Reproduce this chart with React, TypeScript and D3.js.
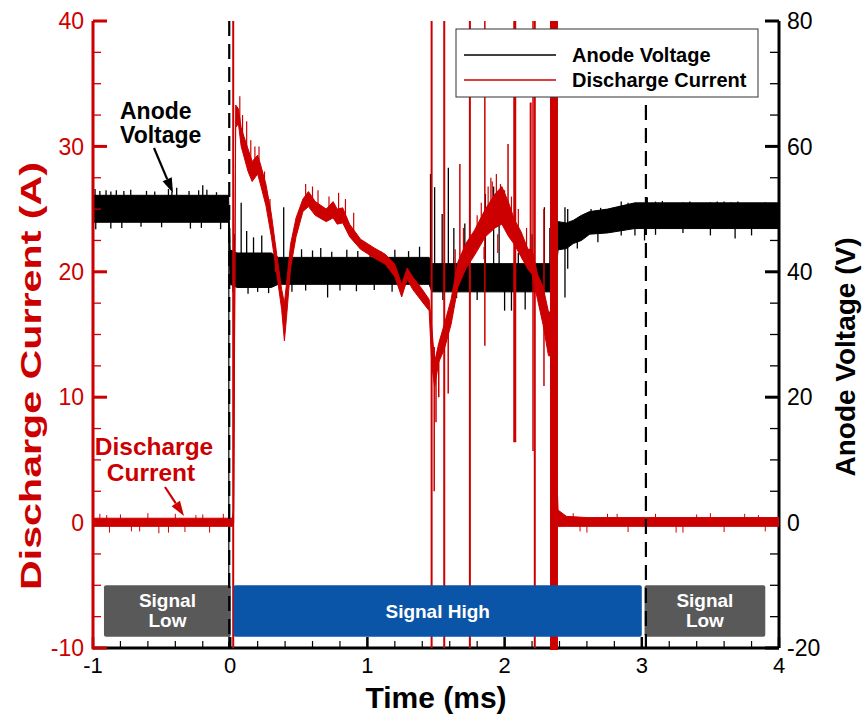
import React from "react";
import * as d3 from "d3";

// ---------- data ----------
const xTickValues = [-1, 0, 1, 2, 3, 4];
const leftTickValues = [-10, 0, 10, 20, 30, 40];
const rightTickValues = [-20, 0, 20, 40, 60, 80];

// Anode voltage noise envelope (V)
const voltT = [-1, -0.012, 0.0, 0.05, 0.3, 0.35, 1.45, 1.47, 2.36, 2.39, 2.45, 2.5, 2.56, 2.62, 2.75, 2.95, 4];
const voltLo = [47.9, 47.9, 38.0, 37.5, 37.5, 38.0, 38.0, 36.8, 36.8, 43.5, 43.7, 44.5, 45.0, 46.0, 46.2, 46.9, 46.9];
const voltHi = [52.2, 52.2, 43.5, 43.0, 43.0, 42.3, 42.3, 41.3, 41.3, 48.0, 47.8, 48.2, 49.0, 49.6, 50.0, 51.0, 51.0];

// Anode voltage spikes (time ms, tip value V)
const voltSpikeT = [
  -0.985, -0.95, -0.905, -0.87, -0.83, -0.775, -0.725, -0.61, -0.55, -0.45, -0.425, -0.39, -0.3, -0.23, -0.2, -0.17, -0.1,
  -0.98, -0.87, -0.79, -0.65, -0.5, -0.29, -0.21, -0.07,
  0.03, 0.08, 0.12, 0.17, 0.23, 0.39, 0.45, 0.52, 0.6, 0.66, 0.74, 0.85, 0.93, 1.02, 1.1, 1.2, 1.3, 1.38,
  1.46, 1.49, 1.545, 1.59, 1.63, 1.71, 1.86, 1.92, 1.96, 2.1, 2.2, 2.29, 2.33,
  0.02, 0.13, 0.2, 0.28, 0.36, 0.45, 0.55, 0.71, 0.8, 0.92, 1.05, 1.18, 1.35, 1.55, 1.65, 1.8, 2.0, 2.05, 2.15, 2.25,
  2.44, 2.46, 2.63, 2.7, 2.73, 2.85, 2.9, 3.04, 3.1, 3.15, 3.3, 3.35, 3.5, 3.55, 3.6, 3.65, 3.7, 3.8, 3.9,
  2.44, 2.46, 2.53, 2.68, 2.85, 2.95, 3.02, 3.1, 3.3, 3.5, 3.68, 3.8,
];
const voltSpikeV = [
  53.2, 52.9, 53.0, 52.8, 53.0, 52.9, 53.1, 52.9, 52.8, 53.2, 52.8, 53.4, 52.9, 53.0, 53.8, 53.1, 52.7,
  46.8, 46.9, 47.0, 47.2, 47.1, 46.9, 47.0, 46.8,
  46.0, 51.0, 46.5, 45.5, 45.8, 50.3, 43.5, 43.6, 43.4, 43.8, 43.2, 43.5, 43.3, 43.8, 43.2, 43.5, 43.3, 44.0,
  55.6, 53.5, 49.2, 56.6, 47.0, 47.7, 52.4, 53.6, 52.8, 43.0, 46.0, 50.3, 47.0,
  36.8, 36.5, 36.8, 36.6, 36.9, 36.8, 37.0, 35.9, 37.0, 36.9, 37.1, 36.8, 37.0, 35.5, 35.8, 35.5, 33.8, 33.8, 34.0, 35.0,
  50.3, 50.0, 50.0, 50.2, 50.0, 51.2, 51.0, 51.9, 51.2, 51.3, 51.1, 51.2, 51.1, 51.2, 51.2, 51.1, 51.2, 51.0, 51.1,
  35.9, 40.5, 43.7, 44.7, 45.8, 45.8, 45.0, 45.9, 46.2, 45.8, 45.3, 45.8,
];
// Voltage dip at trigger (time, from V, to V)
const voltDipT = [-0.01];
const voltDipFrom = [48];
const voltDipTo = [-20];

// Discharge current noise envelope (A)
const curT = [
  -1, 0.015, 0.025, 0.04, 0.06, 0.08, 0.1, 0.13, 0.16, 0.2, 0.22, 0.26, 0.3, 0.34, 0.375, 0.395, 0.41, 0.44, 0.48, 0.53, 0.57,
  0.62, 0.7, 0.75, 0.78, 0.82, 0.87, 0.95, 1.05, 1.13, 1.2, 1.25, 1.29, 1.33, 1.4, 1.45, 1.47, 1.49, 1.52, 1.56, 1.61,
  1.66, 1.72, 1.78, 1.86, 1.93, 1.98, 2.03, 2.07, 2.12, 2.17, 2.2, 2.24, 2.28, 2.32, 2.335, 2.39, 2.45, 2.6, 4,
];
const curLo = [
  -0.3, -0.3, 0.0, 31.5, 31.8, 30.0, 29.2, 28.0, 27.2, 27.8, 27.0, 25.3, 22.8, 19.8, 17.0, 14.5, 16.3, 20.3, 22.8, 24.8, 25.2,
  24.5, 24.0, 24.3, 23.8, 23.9, 22.8, 21.8, 21.1, 20.6, 19.6, 18.0, 19.4, 18.6, 17.6, 16.9, 12.5, 10.8, 12.8, 13.8, 15.8,
  18.8, 20.3, 21.3, 22.8, 23.5, 23.8, 22.8, 22.2, 21.2, 20.2, 19.8, 17.8, 15.8, 13.3, 13.3, -0.3, -0.3, -0.3, -0.3,
];
const curHi = [
  0.35, 0.35, 1.0, 33.3, 33.0, 31.5, 30.8, 29.8, 28.8, 29.3, 28.6, 27.0, 24.6, 21.3, 18.6, 17.5, 19.0, 22.2, 24.3, 25.8, 26.4,
  25.6, 25.0, 25.6, 25.0, 25.1, 23.8, 22.6, 21.9, 21.4, 20.6, 19.0, 20.3, 19.6, 18.6, 17.8, 15.5, 12.8, 14.3, 15.8, 17.8,
  20.8, 22.3, 23.3, 25.0, 26.2, 26.8, 25.5, 24.2, 23.2, 21.8, 21.8, 19.8, 18.8, 16.8, 16.8, 1.0, 0.5, 0.4, 0.4,
];

// Current spikes (time ms, from A, to A, line width)
const curSpikeT = [
  0.022, 1.468, 1.56, 1.747, 2.22, 1.487, 1.589, 1.674, 1.856, 2.074, 2.207, 2.287, 2.025, 2.19, 1.5, 1.52,
  1.88, 1.9, 1.94, 1.97, 2.0, 1.85, 1.95, 1.8, 1.83, 1.91, 2.05, 2.1, 2.13, 2.16, 1.7, 1.64,
  0.07, 0.09, 0.12, 0.15, 0.18, 0.21, 0.25, 0.29, 0.33, 0.55, 0.6, 0.64, 0.72, 0.79, 0.84, 0.9,
  -0.95, -0.88, -0.8, -0.72, -0.6, -0.52, -0.4, -0.33, -0.25, -0.15, -0.05, -0.9, -0.66, -0.45, -0.2,
  2.5, 2.6, 2.75, 2.9, 3.1, 3.25, 3.4, 3.6, 3.75, 3.9, 2.55, 2.82, 3.3, 3.5, 3.85,
];
const curSpikeFrom = [
  -10, -10, -10, -10, -10, 14, 16, 20, 40, 40, 40, 25, 25, 21, 12, 13,
  24, 24, 24, 24, 24, 22, 23, 22, 23, 24, 23, 22, 22, 21, 20, 19,
  32, 30, 30, 28, 28, 28, 26, 24, 20, 25, 25, 25, 24.5, 24.5, 24.3, 23,
  0, 0, 0, 0, 0, 0, 0, 0, 0, 0, 0, 0, 0, 0, 0,
  0, 0, 0, 0, 0, 0, 0, 0, 0, 0, 0, 0, 0, 0, 0,
];
const curSpikeTo = [
  40, 40, 40, 40, 40, 2.5, 10.3, 28.6, 14.1, 6.4, 5.7, 10.9, 30.2, 33.5, 8, 10,
  26.8, 27.5, 27.8, 27, 26.5, 21, 21.5, 24.5, 25.5, 27.2, 26.0, 25.0, 21.0, 23.5, 23.5, 21.8,
  34.0, 32.5, 32.0, 30.5, 30.0, 30.0, 28.0, 25.8, 22.0, 27.0, 26.8, 26.5, 26.0, 26.3, 25.8, 24.7,
  0.7, -0.8, 0.65, -0.7, 0.75, -0.85, 0.7, -0.75, 0.6, -0.8, 0.7, 0.6, -0.7, -0.8, 0.65,
  0.75, -0.8, 0.7, -0.75, 0.7, -0.8, 0.65, -0.75, 0.7, -0.7, -0.7, 0.7, -0.8, 0.75, 0.6,
];
const curSpikeW = [
  2, 2, 2, 2, 2, 1.5, 1.5, 1.5, 1.5, 3, 1.5, 1.5, 1.5, 2, 1.5, 1.5,
  1.2, 1.2, 1.2, 1.2, 1.2, 1.2, 1.2, 1.2, 1.2, 1.2, 1.2, 1.2, 1.2, 1.2, 1.2, 1.2,
  1.2, 1.2, 1.2, 1.2, 1.2, 1.2, 1.2, 1.2, 1.2, 1.2, 1.2, 1.2, 1.2, 1.2, 1.2, 1.2,
  1, 1, 1, 1, 1, 1, 1, 1, 1, 1, 1, 1, 1, 1, 1,
  1, 1, 1, 1, 1, 1, 1, 1, 1, 1, 1, 1, 1, 1, 1,
];
// Saturated burst of current near end of signal
const curBlockStart = [2.331];
const curBlockEnd = [2.389];

// Trigger markers (dashed) : time, top (A)
const dashT = [-0.007, 3.03];
const dashTop = [40, 33.3];

// Signal state bars
const signalStart = [-0.92, 0.025, 3.02];
const signalEnd = [0.005, 3.0, 3.9];
const signalText = [["Signal", "Low"], ["Signal High"], ["Signal", "Low"]];
const signalColor = ["#595959", "#0a55a8", "#595959"];
const signalTopA = -5;
const signalBottomA = -9.1;

const legendLabels = ["Anode Voltage", "Discharge Current"];

// ---------- layout ----------
const W = 866;
const H = 722;
const PL = 93;
const PR = 779;
const PT = 21;
const PB = 648;
const RED = "#cc0000";
const FONT = "'Liberation Sans', Arial, Helvetica, sans-serif";

export default function App() {
  const x = d3.scaleLinear().domain([-1, 4]).range([PL, PR]);
  const yA = d3.scaleLinear().domain([-10, 40]).range([PB, PT]);
  const yV = d3.scaleLinear().domain([-20, 80]).range([PB, PT]);

  const voltArea = d3
    .area<number>()
    .x((_, i) => x(voltT[i]))
    .y0((_, i) => yV(voltLo[i]))
    .y1((_, i) => yV(voltHi[i]));
  const curArea = d3
    .area<number>()
    .x((_, i) => x(curT[i]))
    .y0((_, i) => yA(curLo[i]))
    .y1((_, i) => yA(curHi[i]));

  const bis = d3.bisector((d: number) => d).left;
  const voltMid = (t: number) => {
    let i = bis(voltT, t);
    if (i <= 0) i = 1;
    if (i >= voltT.length) i = voltT.length - 1;
    const t0 = voltT[i - 1], t1 = voltT[i];
    const f = (t - t0) / (t1 - t0);
    const lo = voltLo[i - 1] + f * (voltLo[i] - voltLo[i - 1]);
    const hi = voltHi[i - 1] + f * (voltHi[i] - voltHi[i - 1]);
    return (lo + hi) / 2;
  };

  const xMinor = d3.range(-1, 4.0001, 0.2);
  const aMinor = d3.range(-10, 40.0001, 2.5);
  const vMinor = d3.range(-20, 80.0001, 5);

  const arrow = (x1: number, y1: number, x2: number, y2: number, color: string) => {
    const ang = Math.atan2(y2 - y1, x2 - x1);
    const len = 15;
    const half = 5;
    const bx = x2 - len * Math.cos(ang);
    const by = y2 - len * Math.sin(ang);
    const px = -Math.sin(ang) * half;
    const py = Math.cos(ang) * half;
    return (
      <g>
        <line x1={x1} y1={y1} x2={bx} y2={by} stroke={color} strokeWidth={2.2} />
        <polygon points={`${x2},${y2} ${bx + px},${by + py} ${bx - px},${by - py}`} fill={color} />
      </g>
    );
  };

  return (
    <svg width={W} height={H} style={{ position: "absolute", left: 0, top: 0, background: "#fff" }} fontFamily={FONT}>
      <defs>
        <clipPath id="plotClip">
          <rect x={PL} y={PT - 1} width={PR - PL} height={PB - PT + 3} />
        </clipPath>
      </defs>
      <rect x={0} y={0} width={W} height={H} fill="#fff" />

      {/* bottom axis */}
      <line x1={PL} x2={PR} y1={PB} y2={PB} stroke="#000" strokeWidth={3} />
      {xMinor.map((v, i) => (
        <line key={"xm" + i} x1={x(v)} x2={x(v)} y1={PB} y2={PB - 7} stroke="#000" strokeWidth={1.2} />
      ))}
      {xTickValues.map((v) => (
        <line key={"xM" + v} x1={x(v)} x2={x(v)} y1={PB} y2={PB - 11} stroke="#000" strokeWidth={2.5} />
      ))}
      {xTickValues.map((v) => (
        <text key={"xl" + v} x={x(v)} y={673} fontSize={22} textAnchor="middle" fill="#000">
          {v}
        </text>
      ))}

      {/* right axis */}
      <line x1={PR} x2={PR} y1={PT} y2={PB} stroke="#000" strokeWidth={3} />
      {vMinor.map((v, i) => (
        <line key={"vm" + i} x1={PR} x2={PR - 9} y1={yV(v)} y2={yV(v)} stroke="#000" strokeWidth={1.3} />
      ))}
      {rightTickValues.map((v) => (
        <line key={"vM" + v} x1={PR} x2={PR - 14} y1={yV(v)} y2={yV(v)} stroke="#000" strokeWidth={3} />
      ))}
      {rightTickValues.map((v) => (
        <text key={"vl" + v} x={787} y={yV(v)} dy="0.36em" fontSize={23} fill="#000">
          {v}
        </text>
      ))}

      {/* traces */}
      <g clipPath="url(#plotClip)">
        <path d={voltArea(voltT) || ""} fill="#000" stroke="#000" strokeWidth={1} />
        {voltSpikeT.map((t, i) => (
          <line key={"vs" + i} x1={x(t)} x2={x(t)} y1={yV(voltMid(t))} y2={yV(voltSpikeV[i])} stroke="#000" strokeWidth={1.3} />
        ))}
        {voltDipT.map((t, i) => (
          <line key={"vd" + i} x1={x(t)} x2={x(t)} y1={yV(voltDipFrom[i])} y2={yV(voltDipTo[i])} stroke="#000" strokeWidth={1.2} />
        ))}
        <path d={curArea(curT) || ""} fill={RED} stroke={RED} strokeWidth={1} strokeLinejoin="round" />
        {curSpikeT.map((t, i) => (
          <line key={"cs" + i} x1={x(t)} x2={x(t)} y1={yA(curSpikeFrom[i])} y2={yA(curSpikeTo[i])} stroke={RED} strokeWidth={curSpikeW[i]} />
        ))}
        {curBlockStart.map((t, i) => (
          <rect key={"cb" + i} x={x(t)} y={yA(40)} width={x(curBlockEnd[i]) - x(t)} height={yA(-10) - yA(40) + 2} fill={RED} />
        ))}
      </g>

      {/* signal bars */}
      {signalStart.map((s, i) => {
        const x0 = x(s);
        const x1 = x(signalEnd[i]);
        const y0 = yA(signalTopA);
        const y1 = yA(signalBottomA);
        const cx = (x0 + x1) / 2;
        const lines = signalText[i];
        return (
          <g key={"sb" + i}>
            <rect x={x0} y={y0} width={x1 - x0} height={y1 - y0} fill={signalColor[i]} rx={2} />
            {lines.length === 1 ? (
              <text x={cx} y={(y0 + y1) / 2 + 7} textAnchor="middle" fill="#fff" fontWeight="bold" fontSize={19}>
                {lines[0]}
              </text>
            ) : (
              lines.map((l, j) => (
                <text key={j} x={cx} y={y0 + 22 + j * 20} textAnchor="middle" fill="#fff" fontWeight="bold" fontSize={19}>
                  {l}
                </text>
              ))
            )}
          </g>
        );
      })}

      {/* dashed trigger lines */}
      {dashT.map((t, i) => (
        <line key={"dl" + i} x1={x(t)} x2={x(t)} y1={yA(dashTop[i])} y2={PB} stroke="#000" strokeWidth={2.2} strokeDasharray="15,8" />
      ))}

      {/* legend */}
      <rect x={456} y={29} width={302} height={68} fill="#fff" stroke="#333" strokeWidth={1} />
      <line x1={464} x2={556} y1={55} y2={55} stroke="#000" strokeWidth={1.5} />
      <line x1={464} x2={556} y1={80} y2={80} stroke={RED} strokeWidth={1.5} />
      <text x={572} y={62} fontSize={20} fontWeight="bold" fill="#000">
        {legendLabels[0]}
      </text>
      <text x={572} y={87} fontSize={20} fontWeight="bold" fill="#000">
        {legendLabels[1]}
      </text>

      {/* annotations */}
      <text x={120} y={119} fontSize={23} fontWeight="bold" fill="#000">
        Anode
      </text>
      <text x={120} y={143} fontSize={23} fontWeight="bold" fill="#000">
        Voltage
      </text>
      {arrow(154, 148, 173, 193, "#000")}
      <text x={154} y={455} fontSize={24.5} fontWeight="bold" fill={RED} textAnchor="middle">
        Discharge
      </text>
      <text x={151} y={481} fontSize={24.5} fontWeight="bold" fill={RED} textAnchor="middle">
        Current
      </text>
      {arrow(165, 487, 184, 516, RED)}

      {/* left axis (drawn last, over the bottom axis) */}
      <line x1={PL} x2={PL} y1={PT} y2={PB + 1.5} stroke={RED} strokeWidth={3} />
      {aMinor.map((v, i) => (
        <line key={"am" + i} x1={PL} x2={PL + 8} y1={yA(v)} y2={yA(v)} stroke={RED} strokeWidth={1.3} />
      ))}
      {leftTickValues.map((v) => (
        <line key={"aM" + v} x1={PL} x2={PL + 14} y1={yA(v)} y2={yA(v)} stroke={RED} strokeWidth={3} />
      ))}
      {leftTickValues.map((v) => (
        <text key={"al" + v} x={84} y={yA(v)} dy="0.36em" fontSize={23} textAnchor="end" fill={RED}>
          {v}
        </text>
      ))}

      {/* axis titles */}
      <text x={436} y={708} fontSize={30} fontWeight="bold" textAnchor="middle" fill="#000">
        Time (ms)
      </text>
      <text
        transform={`translate(41, 376) rotate(-90)`}
        fontSize={30}
        fontWeight="bold"
        textAnchor="middle"
        fill={RED}
        textLength={428}
        lengthAdjust="spacingAndGlyphs"
      >
        Discharge Current (A)
      </text>
      <text transform={`translate(855, 357) rotate(-90)`} fontSize={28} fontWeight="bold" textAnchor="middle" fill="#000">
        Anode Voltage (V)
      </text>
    </svg>
  );
}
